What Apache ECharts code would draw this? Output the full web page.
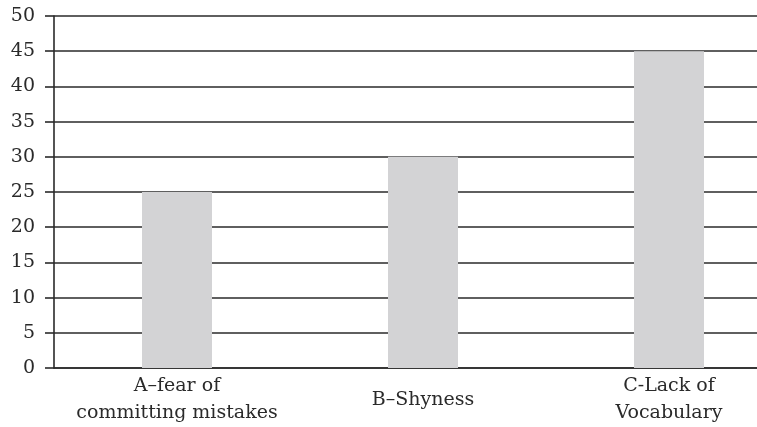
<!DOCTYPE html>
<html>
<head>
<meta charset="utf-8">
<script src="https://cdn.jsdelivr.net/npm/echarts@6/dist/echarts.min.js"></script>
<style>
  html, body { margin: 0; padding: 0; background: #fff; overflow: hidden; }
  /* the plot runs off the right edge in the original, so the chart is wider than the window */
  #chart { width: 792px; height: 427px; }
</style>
</head>
<body>
<div id="chart"></div>
<script>
  // categories and values
  const categories = ['A–fear of\ncommitting mistakes', 'B–Shyness', 'C-Lack of\nVocabulary'];
  const values = [25, 30, 45];

  const chart = echarts.init(document.getElementById('chart'));
  chart.setOption({
    animation: false,
    textStyle: { fontFamily: 'DejaVu Serif' },
    grid: { left: 54, right: 0, top: 16, bottom: 58 },
    xAxis: {
      type: 'category',
      data: categories,
      axisLine: { lineStyle: { color: '#2a2a2a', width: 1.6 } },
      axisTick: { show: false },
      axisLabel: {
        color: '#2a2a2a',
        fontSize: 19,
        lineHeight: 27,
        verticalAlign: 'middle',
        margin: 32,
        interval: 0
      }
    },
    yAxis: {
      type: 'value',
      min: 0,
      max: 50,
      interval: 5,
      axisLine: { show: true, lineStyle: { color: '#2a2a2a', width: 1.6 } },
      axisTick: { show: true, length: 9, lineStyle: { color: '#2a2a2a', width: 1.6 } },
      axisLabel: { color: '#2a2a2a', fontSize: 19, margin: 19 },
      splitLine: { lineStyle: { color: '#2a2a2a', width: 1.6 } }
    },
    series: [{
      type: 'bar',
      data: values,
      barWidth: 70,
      itemStyle: { color: '#d3d3d5' }
    }]
  });
</script>
</body>
</html>
